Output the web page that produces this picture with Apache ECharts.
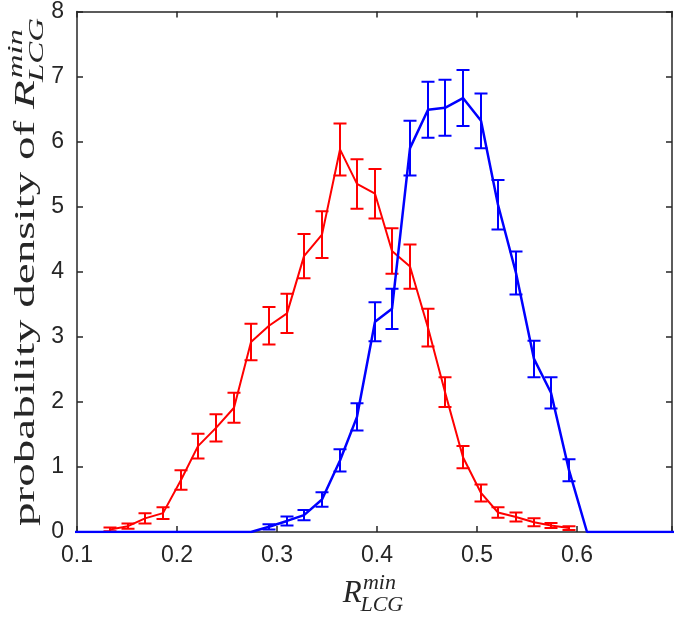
<!DOCTYPE html>
<html><head><meta charset="utf-8">
<script src="https://cdn.jsdelivr.net/npm/echarts@6/dist/echarts.min.js"></script>
<style>html,body{margin:0;padding:0;background:#fff}#c{width:675px;height:621px}</style>
</head><body><div id="c"></div>
<script>
// bin centres (x)
const xBins = [0.098,0.115,0.133,0.151,0.168,0.186,0.204,0.221,0.239,0.257,0.274,0.292,0.310,0.327,0.345,0.363,0.380,0.398,0.415,0.433,0.451,0.468,0.486,0.504,0.521,0.539,0.557,0.574,0.592,0.610,0.627,0.645,0.663,0.680,0.698];
// red series (first bin at 0.133)
const redX   = [0.133,0.151,0.168,0.186,0.204,0.221,0.239,0.257,0.274,0.292,0.310,0.327,0.345,0.363,0.380,0.398,0.415,0.433,0.451,0.468,0.486,0.504,0.521,0.539,0.557,0.574,0.592];
const redVals = [0.04,0.09,0.21,0.29,0.80,1.32,1.60,1.91,2.92,3.17,3.36,4.24,4.57,5.88,5.35,5.20,4.32,4.08,3.14,2.15,1.15,0.60,0.30,0.23,0.15,0.10,0.06];
const redErr  = [0.03,0.04,0.08,0.09,0.15,0.19,0.21,0.23,0.28,0.29,0.30,0.34,0.36,0.40,0.38,0.38,0.35,0.34,0.29,0.23,0.17,0.13,0.08,0.07,0.06,0.04,0.03];
// blue series over all bins
const blueVals = [0,0,0,0,0,0,0,0,0,0,0,0.08,0.17,0.26,0.50,1.10,1.77,3.23,3.43,5.90,6.49,6.52,6.67,6.32,5.03,3.98,2.66,2.14,0.95,0,0,0,0,0,0];
const blueErr  = [0,0,0,0,0,0,0,0,0,0,0,0.04,0.07,0.08,0.11,0.17,0.21,0.30,0.31,0.42,0.43,0.43,0.43,0.42,0.38,0.33,0.28,0.24,0.17,0,0,0,0,0,0];
const xTicks = [0.1,0.2,0.3,0.4,0.5,0.6];

const RED = '#ff0000', BLUE = '#0000ff', AX = '#262626';
const chart = echarts.init(document.getElementById('c'), null, {renderer:'canvas'});

function pairs(xs, ys){ return xs.map((x,i)=>[x, ys[i]]); }
function errData(xs, ys, es){ return xs.map((x,i)=>[x, ys[i], es[i]]).filter(d=>d[2]>0); }

function errRender(color){
  return function(params, api){
    const x = api.value(0), y = api.value(1), e = api.value(2);
    const lo = api.coord([x, y - e]), hi = api.coord([x, y + e]);
    const hw = 6.5;
    const st = {stroke: color, lineWidth: 2};
    return {type:'group', children:[
      {type:'line', shape:{x1:lo[0], y1:lo[1], x2:hi[0], y2:hi[1]}, style:st},
      {type:'line', shape:{x1:lo[0]-hw, y1:lo[1], x2:lo[0]+hw, y2:lo[1]}, style:st},
      {type:'line', shape:{x1:hi[0]-hw, y1:hi[1], x2:hi[0]+hw, y2:hi[1]}, style:st}
    ]};
  };
}

const ctx = document.createElement('canvas').getContext('2d');
function tw(text, font){ ctx.font = font; return ctx.measureText(text).width; }
const SERIF = '"Liberation Serif","Times New Roman",serif';
function mathLabel(prefix, base, sup, sub, fs, fss){
  const fMain = fs + 'px ' + SERIF, fIt = 'italic ' + fs + 'px ' + SERIF, fS = 'italic ' + fss + 'px ' + SERIF;
  const els = []; let x = 0;
  if (prefix){ els.push({type:'text', x:0, y:-0.3*fs, style:{text:prefix, font:fMain, fill:AX, align:'left', verticalAlign:'middle'}}); x += tw(prefix, fMain); }
  els.push({type:'text', x:x, y:-0.3*fs, style:{text:base, font:fIt, fill:AX, align:'left', verticalAlign:'middle'}});
  x += tw(base, fIt) + 0.04*fs;
  els.push({type:'text', x:x, y:-0.42*fs-0.3*fss, style:{text:sup, font:fS, fill:AX, align:'left', verticalAlign:'middle'}});
  els.push({type:'text', x:x - 0.08*fs, y:0.28*fs-0.3*fss, style:{text:sub, font:fS, fill:AX, align:'left', verticalAlign:'middle'}});
  const w = x + Math.max(tw(sup, fS), tw(sub, fS) - 0.08*fs);
  els.forEach(e=>{ e.x -= w/2; });
  return {els, w};
}
const yT = mathLabel('probability density of ', 'R', 'min', 'LCG', 30, 21);
const xT = mathLabel('', 'R', 'min', 'LCG', 31, 22);
const ySx = 508 / yT.w;

const axisCommon = {
  type:'value', min:0.1, max:0.695, interval:0.1,
  axisLine:{show:true, onZero:false, lineStyle:{color:AX, width:1.5}},
  axisTick:{show:true, inside:true, length:6, lineStyle:{color:AX, width:1.5}},
  splitLine:{show:false}
};
chart.setOption({
  animation:false,
  grid:{left:77, right:2, top:8, bottom:89, containLabel:false},
  xAxis:[
    Object.assign({}, axisCommon, {position:'bottom',
      axisLabel:{show:true, margin:12, color:AX, fontSize:23, fontFamily:'"Liberation Sans",Arial,sans-serif',
        formatter:v=>{ const t = xTicks.find(k=>Math.abs(k-v)<1e-6); return t===undefined?'':t.toFixed(1); }}}),
    Object.assign({}, axisCommon, {position:'top', axisLabel:{show:false}})
  ],
  yAxis:[
    {type:'value', min:0, max:8, interval:1, position:'left',
      axisLine:{show:true, onZero:false, lineStyle:{color:AX, width:1.5}},
      axisTick:{show:true, inside:true, length:6, lineStyle:{color:AX, width:1.5}},
      splitLine:{show:false},
      axisLabel:{margin:13, color:AX, fontSize:23, fontFamily:'"Liberation Sans",Arial,sans-serif'}},
    {type:'value', min:0, max:8, interval:1, position:'right',
      axisLine:{show:true, onZero:false, lineStyle:{color:AX, width:1.5}},
      axisTick:{show:true, inside:true, length:6, lineStyle:{color:AX, width:1.5}},
      splitLine:{show:false}, axisLabel:{show:false}}
  ],
  series:[
    {type:'line', data:pairs(redX, redVals), symbol:'none', clip:true, lineStyle:{color:RED, width:2}, z:3},
    {type:'custom', data:errData(redX, redVals, redErr), renderItem:errRender(RED), clip:true, z:3},
    {type:'line', data:pairs(xBins, blueVals), symbol:'none', clip:true, lineStyle:{color:BLUE, width:2.5}, z:4},
    {type:'custom', data:errData(xBins, blueVals, blueErr), renderItem:errRender(BLUE), clip:true, z:4}
  ],
  graphic:[
    {type:'group', x:35, y:272, rotation:Math.PI/2, scaleX:ySx, children:yT.els},
    {type:'group', x:373, y:603, children:xT.els}
  ]
});
</script></body></html>
